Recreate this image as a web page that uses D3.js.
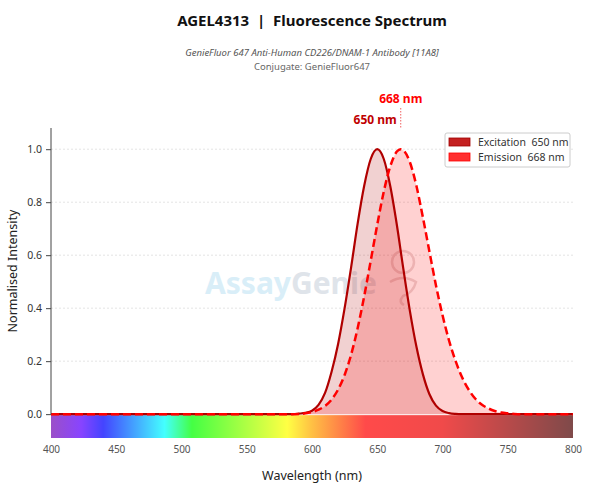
<!DOCTYPE html>
<html lang="en">
<head>
<meta charset="UTF-8">
<title>AGEL4313 Fluorescence Spectrum</title>
<script src="https://d3js.org/d3.v7.min.js"></script>
<style>
    body { margin: 0; background: #fff; }
    svg text { font-family: "Noto Sans", "Open Sans", sans-serif; }
</style>
</head>
<body>
<div id="chart"></div>
<script>
    // spectrum data (nm, normalised intensity)
    var exWavelengths = [400, 580, 585, 590, 595, 600, 605, 610, 615, 620, 625, 630, 635, 640, 645, 650,
        655, 660, 665, 670, 675, 680, 685, 690, 695, 700, 705, 710, 715, 720, 800];
    var exValues = [0, 0, 0.000, 0.002, 0.005, 0.013, 0.035, 0.080, 0.160, 0.265, 0.400, 0.555, 0.720, 0.862, 0.963, 1.000,
        0.963, 0.860, 0.715, 0.548, 0.390, 0.255, 0.150, 0.075, 0.032, 0.012, 0.004, 0.001, 0.000, 0, 0];

    var emWavelengths = [400, 585, 590, 595, 600, 605, 610, 615, 620, 625, 630, 635, 640, 645, 650, 655, 660, 665, 668,
        670, 675, 680, 685, 690, 695, 700, 705, 710, 715, 720, 725, 730, 735, 740, 745, 750, 755, 760, 800];
    var emValues = [0, 0, 0.001, 0.003, 0.008, 0.017, 0.031, 0.055, 0.093, 0.148, 0.225, 0.325, 0.445, 0.579, 0.715, 0.840, 0.936, 0.991, 1.000,
        0.996, 0.951, 0.862, 0.742, 0.613, 0.486, 0.374, 0.278, 0.201, 0.139, 0.093, 0.059, 0.036, 0.022, 0.012, 0.006, 0.003, 0.001, 0, 0];

    var exPeak = 650, emPeak = 668;
    var xTicks = [400, 450, 500, 550, 600, 650, 700, 750, 800];
    var yTicks = [0.0, 0.2, 0.4, 0.6, 0.8, 1.0];

    // visible spectrum colour stops
    var specStops = [400, 423, 440, 487, 508, 581, 600, 641, 700, 800];
    var specColors = ["#9b50c8", "#8844ff", "#4444ff", "#44ffff", "#44ff44", "#ffff44", "#ffc044", "#ff4a4a", "#f04a4a", "#7f4a4a"];

    var W = 590, H = 498;
    var margin = { left: 51, right: 573, top: 128, bottom: 438 };

    var svg = d3.select("#chart").append("svg")
        .attr("width", W).attr("height", H);

    var x = d3.scaleLinear().domain([400, 800]).range([margin.left, margin.right]);
    var y = d3.scaleLinear().domain([-0.09, 1.08]).range([margin.bottom, margin.top]);

    // titles
    svg.append("text").attr("x", 312).attr("y", 26).attr("text-anchor", "middle")
        .attr("font-size", 15).attr("font-weight", "bold").attr("fill", "#111")
        .attr("xml:space", "preserve")
        .text("AGEL4313  |  Fluorescence Spectrum");
    svg.append("text").attr("x", 312).attr("y", 56).attr("text-anchor", "middle")
        .attr("font-size", 9.5).attr("font-style", "italic").attr("fill", "#555")
        .text("GenieFluor 647 Anti-Human CD226/DNAM-1 Antibody [11A8]");
    svg.append("text").attr("x", 312).attr("y", 70).attr("text-anchor", "middle")
        .attr("font-size", 9.5).attr("fill", "#666")
        .text("Conjugate: GenieFluor647");

    // grid
    svg.append("g").selectAll("line").data(yTicks.slice(1)).join("line")
        .attr("x1", margin.left).attr("x2", margin.right)
        .attr("y1", d => y(d)).attr("y2", d => y(d))
        .attr("stroke", "#ddd").attr("stroke-width", 0.8).attr("stroke-dasharray", "2,2");

    // watermark
    var wm = svg.append("text").attr("x", 205).attr("y", 294)
        .attr("font-size", 30).attr("font-weight", "bold")
        .attr("font-family", "'Open Sans', 'Noto Sans', sans-serif");
    wm.append("tspan").attr("fill", "#d9eef8").text("Assay");
    wm.append("tspan").attr("fill", "#dfe4ea").text("Genie");
    var icon = svg.append("g").attr("fill", "none").attr("stroke", "#eadada").attr("stroke-width", 2.5);
    icon.append("circle").attr("cx", 403).attr("cy", 262).attr("r", 11);
    icon.append("path").attr("d", "M390,282 Q403,274 416,282 Q413,293 403,296 Q398,302 404,305");

    // spectrum bar
    var grad = svg.append("defs").append("linearGradient").attr("id", "spec")
        .attr("x1", "0%").attr("x2", "100%").attr("y1", "0%").attr("y2", "0%");
    grad.selectAll("stop").data(specStops).join("stop")
        .attr("offset", d => ((d - 400) / 400 * 100) + "%")
        .attr("stop-color", (d, i) => specColors[i]);
    svg.append("rect").attr("x", x(400)).attr("width", x(800) - x(400))
        .attr("y", y(0) + 1).attr("height", y(-0.09) - y(0) - 1)
        .attr("fill", "url(#spec)");

    var exData = exWavelengths.map((w, i) => [w, exValues[i]]);
    var emData = emWavelengths.map((w, i) => [w, emValues[i]]);

    var area = d3.area().x(d => x(d[0])).y0(y(0)).y1(d => y(d[1])).curve(d3.curveMonotoneX);
    var line = d3.line().x(d => x(d[0])).y(d => y(d[1])).curve(d3.curveMonotoneX);

    svg.append("path").datum(exData).attr("d", area).attr("fill", "#b20000").attr("fill-opacity", 0.18);
    svg.append("path").datum(emData).attr("d", area).attr("fill", "#ff0000").attr("fill-opacity", 0.18);
    svg.append("path").datum(exData).attr("d", line).attr("fill", "none")
        .attr("stroke", "#b00000").attr("stroke-width", 2.2);
    svg.append("path").datum(emData).attr("d", line).attr("fill", "none")
        .attr("stroke", "#ff0000").attr("stroke-width", 2.5).attr("stroke-dasharray", "8,4");

    // y axis
    var yAxis = svg.append("g").attr("transform", "translate(" + margin.left + ",0)")
        .call(d3.axisLeft(y).tickValues(yTicks).tickFormat(d3.format(".1f")).tickSize(5).tickPadding(4));
    yAxis.select(".domain").attr("d", "M0," + margin.top + "V" + y(0)).attr("stroke", "#444");
    yAxis.selectAll(".tick line").attr("stroke", "#444");
    yAxis.selectAll(".tick text").attr("font-size", 10.5).attr("fill", "#333");

    // x axis (labels only)
    var xAxis = svg.append("g").attr("transform", "translate(0," + margin.bottom + ")")
        .call(d3.axisBottom(x).tickValues(xTicks).tickSize(0).tickPadding(8));
    xAxis.select(".domain").remove();
    xAxis.selectAll(".tick text").attr("font-size", 10).attr("fill", "#555");

    svg.append("text").attr("x", 312).attr("y", 480).attr("text-anchor", "middle")
        .attr("font-size", 12.5).attr("fill", "#222").text("Wavelength (nm)");
    svg.append("text").attr("transform", "translate(17," + ((margin.top + y(0)) / 2) + ") rotate(-90)")
        .attr("text-anchor", "middle").attr("font-size", 12.5).attr("fill", "#222")
        .text("Normalised Intensity");

    // peak annotations
    svg.append("line").attr("x1", x(emPeak)).attr("x2", x(emPeak))
        .attr("y1", 108).attr("y2", margin.top)
        .attr("stroke", "#f06060").attr("stroke-width", 1).attr("stroke-dasharray", "1.5,1.5");
    svg.append("text").attr("x", x(emPeak)).attr("y", 103).attr("text-anchor", "middle")
        .attr("font-size", 12).attr("font-weight", "bold").attr("fill", "#ff0000")
        .text(emPeak + " nm");
    svg.append("text").attr("x", x(emPeak) - 4).attr("y", 124).attr("text-anchor", "end")
        .attr("font-size", 12).attr("font-weight", "bold").attr("fill", "#c00000")
        .text(exPeak + " nm");

    // legend
    var lg = svg.append("g").attr("transform", "translate(445,133)");
    lg.append("rect").attr("width", 125).attr("height", 34).attr("rx", 2)
        .attr("fill", "#fff").attr("fill-opacity", 0.9).attr("stroke", "#ccc");
    var items = [
        { label: "Excitation  " + exPeak + " nm", fill: "#c42020", stroke: "#a00000" },
        { label: "Emission  " + emPeak + " nm", fill: "#ff3030", stroke: "#ff0000" }
    ];
    items.forEach(function (it, i) {
        lg.append("rect").attr("x", 4).attr("y", 5 + i * 15).attr("width", 21).attr("height", 8)
            .attr("fill", it.fill).attr("stroke", it.stroke).attr("stroke-width", 0.8);
        lg.append("text").attr("x", 33).attr("y", 13 + i * 15).attr("font-size", 10.5).attr("fill", "#333")
            .attr("xml:space", "preserve").text(it.label);
    });
</script>
</body>
</html>
